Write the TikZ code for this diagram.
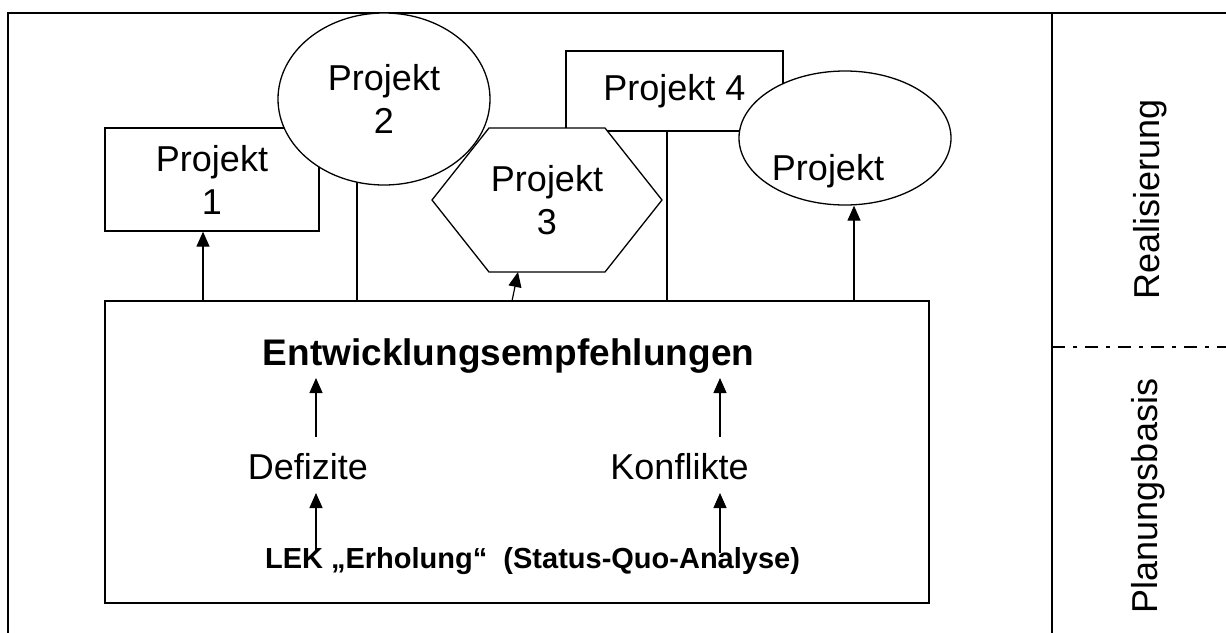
\documentclass[tikz,border=0pt]{standalone}
\usepackage{fontspec}
\setmainfont{Liberation Sans}
\usetikzlibrary{arrows.meta,shapes.geometric}
\begin{document}
\begin{tikzpicture}[x=1pt,y=-1pt,
  shp/.style={draw, line width=1.3pt, fill=white, inner sep=0pt},
  txt/.style={font=\fontsize{36}{43}\selectfont, align=center, inner sep=0pt},
  btxt/.style={font=\bfseries\fontsize{37}{44}\selectfont, inner sep=0pt},
  stxt/.style={font=\bfseries\fontsize{29}{35}\selectfont, inner sep=0pt},
  arr/.style={line width=1.2pt, -{Triangle[length=15pt,width=13pt]}},
  ln/.style={line width=1.3pt},
]
\useasboundingbox (0,0) rectangle (1226,632);
\clip (0,0) rectangle (1226,632);
% outer frame and side column
\draw[line width=2pt] (8,13) rectangle (1250,660);
\draw[line width=1.5pt] (1052,13) -- (1052,660);
\draw[line width=1.5pt, dash pattern=on 13pt off 8pt on 4pt off 8pt] (1052,347) -- (1250,347);
\node[txt, rotate=90] (real) at (1150,199) {Realisierung};
\node[txt, rotate=90] (plan) at (1148,496) {Planungsbasis};
% main box
\node[shp, line width=1.8pt, minimum width=824pt, minimum height=302pt] (main) at (517,452) {};
% attachment points on main box
\coordinate (c1) at (203,301);
\coordinate (c2) at (357,301);
\coordinate (c3) at (512,301);
\coordinate (c4) at (667,301);
\coordinate (c5) at (854,301);
% plain lines (drawn under the shapes)
\draw[ln] (c2) -- (357,150);
\draw[ln] (c4) -- (667,120);
% project shapes
\node[shp, rectangle, minimum width=214pt, minimum height=103pt, txt] (p1) at (212,179.5) {Projekt\\1};
\node[shp, ellipse, minimum width=212pt, minimum height=172pt, txt] (p2) at (384,99) {Projekt\\2};
\node[shp, rectangle, minimum width=217pt, minimum height=80pt, txt] (p4) at (674.5,91) {Projekt 4};
\node[shp, ellipse, minimum width=212pt, minimum height=134pt] (p5) at (845,138) {};
\node[txt, anchor=base] (p5t) at (828,180) {Projekt};
\draw[ln, fill=white] (432,200) -- (489,128) -- (605,128) -- (662,200) -- (605,272) -- (489,272) -- cycle;
\node[txt] (p3) at (547,200) {Projekt\\3};
\coordinate (p3b) at (518,272);
% arrows to projects
\draw[arr] (c1) -- (c1 |- p1.south);
\draw[arr] (c3) -- (p3b);
\draw[arr] (c5) -- (c5 |- p5.south);
% inner texts
\node[btxt, anchor=base] (hdr) at (508.5,365) {Entwicklungsempfehlungen};
\node[txt, anchor=base] (def) at (308,479) {Defizite};
\node[txt, anchor=base] (kon) at (679.5,479) {Konflikte};
\node[stxt, anchor=base] (lek) at (532.5,568) {LEK „Erholung“~ (Status-Quo-Analyse)};
% inner arrows
\coordinate (d1) at (316,437);
\coordinate (d2) at (316,378);
\coordinate (k1) at (720,437);
\coordinate (k2) at (720,378);
\coordinate (l1) at (316,550);
\coordinate (l2) at (316,493);
\coordinate (m1) at (720,553);
\coordinate (m2) at (720,493);
\draw[arr] (d1) -- (d2);
\draw[arr] (k1) -- (k2);
\draw[arr] (l1) -- (l2);
\draw[arr] (m1) -- (m2);
\end{tikzpicture}
\end{document}
